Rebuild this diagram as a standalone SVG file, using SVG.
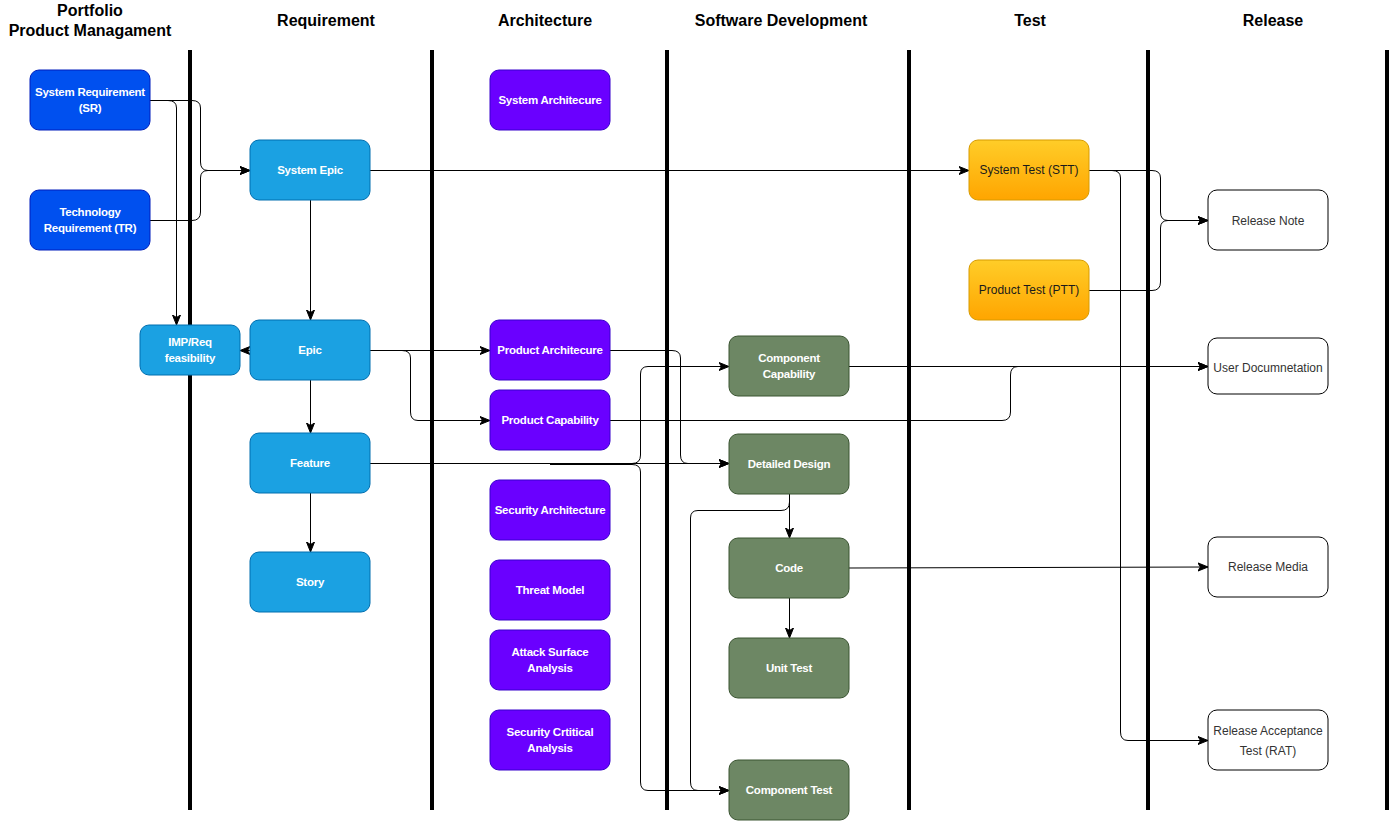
<svg xmlns="http://www.w3.org/2000/svg" width="1390" height="821" viewBox="0 0 1390 821">
<style>
.hdr{font-family:"Liberation Sans",Arial,sans-serif;font-size:16px;font-weight:bold;fill:#000;text-anchor:middle}
.lane{stroke:#000;stroke-width:4}
.n rect{rx:9;ry:9;stroke-width:1}
.n text{font-family:"Liberation Sans",Arial,sans-serif;font-size:12px;text-anchor:middle;dominant-baseline:central}
.pm rect{fill:#0050EF;stroke:#001DBC}
.rq rect{fill:#1BA1E2;stroke:#006EAF}
.ar rect{fill:#6A00FF;stroke:#3700CC}
.sd rect{fill:#6D8764;stroke:#3A5431}
.ts rect{fill:url(#gold);stroke:#D79B00}
.rl rect{fill:#fff;stroke:#000}
.pm text,.rq text,.ar text,.sd text{fill:#fff;font-weight:bold;font-size:11.5px;letter-spacing:-0.25px}
.ts text{fill:#1a1a1a}
.rl text{fill:#333}
.c path{fill:none;stroke:#000;stroke-width:1;marker-end:url(#arr)}
</style>
<defs>
<linearGradient id="gold" x1="0" y1="0" x2="0" y2="1">
<stop offset="0" stop-color="#FFCD28"/>
<stop offset="1" stop-color="#FFA500"/>
</linearGradient>
<marker id="arr" markerUnits="userSpaceOnUse" markerWidth="12" markerHeight="10" refX="10" refY="5" orient="auto">
<path d="M0,1 L10,5 L0,9 L2.5,5 Z" fill="#000" stroke="#000" stroke-width="1"/>
</marker>
</defs>
<rect width="1390" height="821" fill="#fff"/>

<g id="headers">
<text class="hdr" x="90" y="16">Portfolio</text>
<text class="hdr" x="90" y="36">Product Managament</text>
<text class="hdr" x="326" y="26">Requirement</text>
<text class="hdr" x="545" y="26">Architecture</text>
<text class="hdr" x="781" y="26">Software Development</text>
<text class="hdr" x="1030" y="26">Test</text>
<text class="hdr" x="1273" y="26">Release</text>
</g>

<g id="lanes">
<line class="lane" x1="190" y1="50" x2="190" y2="810"/>
<line class="lane" x1="432" y1="50" x2="432" y2="810"/>
<line class="lane" x1="667" y1="50" x2="667" y2="810"/>
<line class="lane" x1="909" y1="50" x2="909" y2="810"/>
<line class="lane" x1="1148" y1="50" x2="1148" y2="810"/>
<line class="lane" x1="1387" y1="50" x2="1387" y2="810"/>
</g>

<g id="connectors" class="c">
<path d="M150,100.5 H192 Q200.5,100.5 200.5,108 V162 Q200.5,170.5 208,170.5 H250"/>
<path d="M150,220.5 H192 Q200.5,220.5 200.5,212 V178 Q200.5,170.5 208,170.5 H250"/>
<path d="M150,100.5 H168 Q176.5,100.5 176.5,108 V325"/>
<path d="M250,350.5 H240"/>
<path d="M310.5,200 V320"/>
<path d="M310.5,380 V433"/>
<path d="M310.5,493 V552"/>
<path d="M370,170.5 H969"/>
<path d="M370,350.5 H490"/>
<path d="M370,350.5 H402 Q410.5,350.5 410.5,358 V412 Q410.5,420.5 418,420.5 H490"/>
<path d="M610,350.5 H672 Q680.5,350.5 680.5,358 V455 Q680.5,463.5 688,463.5 H729"/>
<path d="M370,463.5 H729"/>
<path d="M370,463.5 H632 Q640.5,463.5 640.5,455 V374 Q640.5,366.5 648,366.5 H729"/>
<path d="M550,464.5 H632 Q640.5,464.5 640.5,472 V782 Q640.5,790.5 648,790.5 H729"/>
<path d="M789.5,494 V538"/>
<path d="M789.5,494 V502 Q789.5,510.5 781,510.5 H698 Q690.5,510.5 690.5,518 V782 Q690.5,790.5 698,790.5 H729"/>
<path d="M789.5,598 V638"/>
<path d="M849,568 L1208,567"/>
<path d="M849,366.5 H1208"/>
<path d="M610,420.5 H1002 Q1010.5,420.5 1010.5,412 V375 Q1010.5,366.5 1018,366.5 H1208"/>
<path d="M1089,170.5 H1152 Q1160.5,170.5 1160.5,178 V212 Q1160.5,220.5 1168,220.5 H1208"/>
<path d="M1089,290.5 H1152 Q1160.5,290.5 1160.5,282 V228 Q1160.5,220.5 1168,220.5 H1208"/>
<path d="M1089,170.5 H1112 Q1120.5,170.5 1120.5,178 V732 Q1120.5,740.5 1128,740.5 H1208"/>
</g>

<g id="sr" class="n pm"><rect x="30" y="70" width="120" height="60"/><text x="90" y="92">System Requirement</text><text x="90" y="108">(SR)</text></g>
<g id="tr" class="n pm"><rect x="30" y="190" width="120" height="60"/><text x="90" y="212">Technology</text><text x="90" y="228">Requirement (TR)</text></g>
<g id="imp" class="n rq"><rect x="140" y="325" width="100" height="50" rx="7" ry="7"/><text x="190" y="342">IMP/Req</text><text x="190" y="358">feasibility</text></g>
<g id="sysepic" class="n rq"><rect x="250" y="140" width="120" height="60"/><text x="310" y="170">System Epic</text></g>
<g id="epic" class="n rq"><rect x="250" y="320" width="120" height="60"/><text x="310" y="350">Epic</text></g>
<g id="feature" class="n rq"><rect x="250" y="433" width="120" height="60"/><text x="310" y="463">Feature</text></g>
<g id="story" class="n rq"><rect x="250" y="552" width="120" height="60"/><text x="310" y="582">Story</text></g>

<g id="sysarch" class="n ar"><rect x="490" y="70" width="120" height="60"/><text x="550" y="100">System Architecure</text></g>
<g id="prodarch" class="n ar"><rect x="490" y="320" width="120" height="60"/><text x="550" y="350">Product Architecure</text></g>
<g id="prodcap" class="n ar"><rect x="490" y="390" width="120" height="60"/><text x="550" y="420">Product Capability</text></g>
<g id="secarch" class="n ar"><rect x="490" y="480" width="120" height="60"/><text x="550" y="510">Security Architecture</text></g>
<g id="threat" class="n ar"><rect x="490" y="560" width="120" height="60"/><text x="550" y="590">Threat Model</text></g>
<g id="attack" class="n ar"><rect x="490" y="630" width="120" height="60"/><text x="550" y="652">Attack Surface</text><text x="550" y="668">Analysis</text></g>
<g id="seccrit" class="n ar"><rect x="490" y="710" width="120" height="60"/><text x="550" y="732">Security Crtitical</text><text x="550" y="748">Analysis</text></g>

<g id="compcap" class="n sd"><rect x="729" y="336" width="120" height="60"/><text x="789" y="358">Component</text><text x="789" y="374">Capability</text></g>
<g id="dd" class="n sd"><rect x="729" y="434" width="120" height="60"/><text x="789" y="464">Detailed Design</text></g>
<g id="code" class="n sd"><rect x="729" y="538" width="120" height="60"/><text x="789" y="568">Code</text></g>
<g id="unittest" class="n sd"><rect x="729" y="638" width="120" height="60"/><text x="789" y="668">Unit Test</text></g>
<g id="comptest" class="n sd"><rect x="729" y="760" width="120" height="60"/><text x="789" y="790">Component Test</text></g>

<g id="stt" class="n ts"><rect x="969" y="140" width="120" height="60"/><text x="1029" y="170">System Test (STT)</text></g>
<g id="ptt" class="n ts"><rect x="969" y="260" width="120" height="60"/><text x="1029" y="290">Product Test (PTT)</text></g>

<g id="relnote" class="n rl"><rect x="1208" y="190" width="120" height="60"/><text x="1268" y="221">Release Note</text></g>
<g id="userdoc" class="n rl"><rect x="1208" y="338" width="120" height="56"/><text x="1268" y="368">User Documnetation</text></g>
<g id="relmedia" class="n rl"><rect x="1208" y="537" width="120" height="60"/><text x="1268" y="567">Release Media</text></g>
<g id="rat" class="n rl"><rect x="1208" y="710" width="120" height="60"/><text x="1268" y="731">Release Acceptance</text><text x="1268" y="751">Test (RAT)</text></g>
</svg>
